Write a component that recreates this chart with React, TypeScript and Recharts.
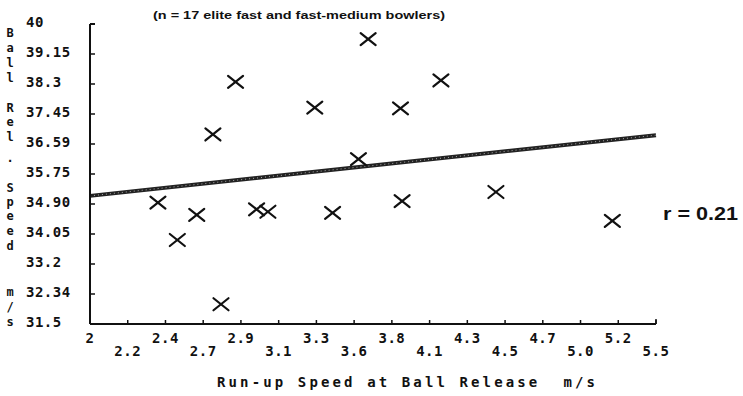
import React from 'react';
import { ScatterChart, Scatter, XAxis, YAxis, ReferenceLine } from 'recharts';

// Run-up speed at ball release (m/s) and ball release speed (m/s), 17 bowlers
const runUpSpeed = [2.42, 2.54, 2.66, 2.76, 2.81, 2.9, 3.03, 3.1, 3.39, 3.5, 3.66, 3.72, 3.92, 3.93, 4.17, 4.51, 5.23];
const ballReleaseSpeed = [34.94, 33.88, 34.59, 36.87, 32.06, 38.36, 34.75, 34.68, 37.63, 34.65, 36.17, 39.57, 37.61, 34.98, 38.4, 35.24, 34.42];

const xTickValues = [2, 2.2333, 2.4667, 2.7, 2.9333, 3.1667, 3.4, 3.6333, 3.8667, 4.1, 4.3333, 4.5667, 4.8, 5.0333, 5.2667, 5.5];
const xTickLabels = ['2', '2.2', '2.4', '2.7', '2.9', '3.1', '3.3', '3.6', '3.8', '4.1', '4.3', '4.5', '4.7', '5.0', '5.2', '5.5'];

const yTickValues = [31.5, 32.35, 33.2, 34.05, 34.9, 35.75, 36.6, 37.45, 38.3, 39.15, 40];
const yTickLabels = ['31.5', '32.34', '33.2', '34.05', '34.90', '35.75', '36.59', '37.45', '38.3', '39.15', '40'];

const fitStart = { x: 2, y: 35.13 };
const fitEnd = { x: 5.5, y: 36.85 };

const titleText = '(n = 17 elite fast and fast-medium bowlers)';
const xTitle = 'Run-up Speed at Ball Release  m/s';
const yTitle = 'Ball Rel. Speed m/s';
const rText = 'r = 0.21';

const points = runUpSpeed.map((x, i) => ({ x, y: ballReleaseSpeed[i] }));

const MONO = '"DejaVu Sans Mono", "Liberation Mono", monospace';
const SANS = '"Liberation Sans", Arial, sans-serif';

const Cross = (props: any) => {
  const { cx, cy } = props;
  if (cx == null || cy == null) return <g />;
  return (
    <g stroke="#111" strokeWidth={2.2} strokeLinecap="round">
      <line x1={cx - 7.5} y1={cy - 6} x2={cx + 7.5} y2={cy + 6} />
      <line x1={cx - 7.5} y1={cy + 6} x2={cx + 7.5} y2={cy - 6} />
    </g>
  );
};

const XTick = (props: any) => {
  const { x, payload } = props;
  let idx = xTickValues.indexOf(payload.value);
  if (idx < 0) idx = props.index ?? 0;
  const row = idx % 2;
  return (
    <g>
      {idx > 0 && <line x1={x} x2={x} y1={324} y2={320} stroke="#111" strokeWidth={1.5} />}
      <text
        x={x}
        y={row ? 356 : 343}
        textAnchor="middle"
        fontFamily={MONO}
        fontWeight="bold"
        fontSize={14}
        letterSpacing={0.5}
        fill="#111"
      >
        {xTickLabels[idx]}
      </text>
    </g>
  );
};

const YTick = (props: any) => {
  const { y, payload } = props;
  let idx = yTickValues.indexOf(payload.value);
  if (idx < 0) idx = props.index ?? 0;
  return (
    <g>
      {idx > 0 && <line x1={90} x2={95} y1={y} y2={y} stroke="#111" strokeWidth={1.5} />}
      <text
        x={26}
        y={y + 3}
        textAnchor="start"
        fontFamily={MONO}
        fontWeight="bold"
        fontSize={14}
        letterSpacing={0.5}
        fill="#111"
      >
        {yTickLabels[idx]}
      </text>
    </g>
  );
};

const yLetterPos = [33, 48, 63, 78, 0, 108, 122, 137, 158, 0, 188, 202, 216, 231, 246, 0, 292, 307, 322];

export default function App() {
  return (
    <div style={{ position: 'absolute', left: 0, top: 0, width: 743, height: 396, background: '#fff' }}>
      <ScatterChart width={743} height={396} margin={{ top: 24, right: 87, bottom: 32, left: 0 }}>
        <XAxis
          type="number"
          dataKey="x"
          domain={[2, 5.5]}
          ticks={xTickValues}
          interval={0}
          tick={<XTick />}
          tickLine={false}
          axisLine={{ stroke: '#111', strokeWidth: 2 }}
          height={40}
          allowDataOverflow
        />
        <YAxis
          type="number"
          dataKey="y"
          domain={[31.5, 40]}
          ticks={yTickValues}
          interval={0}
          tick={<YTick />}
          tickLine={false}
          axisLine={{ stroke: '#111', strokeWidth: 2 }}
          width={90}
          allowDataOverflow
        />
        <ReferenceLine
          segment={[fitStart, fitEnd]}
          stroke="#222"
          strokeWidth={4}
          ifOverflow="visible"
        />
        <ReferenceLine
          segment={[fitStart, fitEnd]}
          stroke="#aaa"
          strokeWidth={1}
          strokeDasharray="1 3"
          ifOverflow="visible"
        />
        <Scatter data={points} shape={<Cross />} isAnimationActive={false} />
      </ScatterChart>
      <svg
        width={743}
        height={396}
        style={{ position: 'absolute', left: 0, top: 0, pointerEvents: 'none' }}
      >
        <line x1={90} x2={95} y1={24} y2={24} stroke="#111" strokeWidth={2} />
        <line x1={656} x2={656} y1={324} y2={319} stroke="#111" strokeWidth={1.5} />
        <text
          x={153}
          y={19}
          fontFamily={SANS}
          fontSize={11.5}
          fontWeight="bold"
          fill="#111"
          textLength={292}
          lengthAdjust="spacingAndGlyphs"
        >
          {titleText}
        </text>
        <text
          x={217}
          y={387}
          fontFamily={MONO}
          fontSize={14}
          fontWeight="bold"
          fill="#111"
          style={{ whiteSpace: 'pre' }}
          textLength={378}
          lengthAdjust="spacing"
        >
          {xTitle}
        </text>
        <text
          x={663}
          y={220}
          fontFamily={SANS}
          fontSize={18}
          fontWeight="bold"
          fill="#111"
          style={{ whiteSpace: 'pre' }}
          textLength={75}
          lengthAdjust="spacingAndGlyphs"
        >
          {rText}
        </text>
        {yTitle.split('').map((ch, i) =>
          ch === ' ' ? null : (
            <text
              key={i}
              x={10}
              y={yLetterPos[i] + 4}
              textAnchor="middle"
              fontFamily={MONO}
              fontSize={12}
              fontWeight="bold"
              fill="#111"
            >
              {ch}
            </text>
          )
        )}
      </svg>
    </div>
  );
}
